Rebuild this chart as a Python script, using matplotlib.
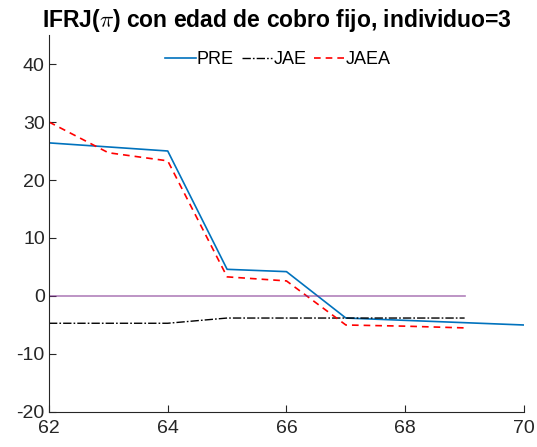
import numpy as np
from matplotlib import pyplot as plt

plt.rcParams['font.family'] = ['Liberation Sans', 'DejaVu Sans']
plt.rcParams['axes.unicode_minus'] = False
plt.rcParams['mathtext.fontset'] = 'cm'

# ages
edad = [62, 63, 64, 65, 66, 67, 68, 69, 70]
edad_j = [62, 63, 64, 65, 66, 67, 68, 69]

pre = [26.4, 25.7, 25.0, 4.6, 4.2, -3.8, -4.2, -4.6, -5.0]
jae = [-4.7, -4.7, -4.7, -3.8, -3.8, -3.8, -3.8, -3.8]
jaea = [30.0, 24.7, 23.3, 3.3, 2.6, -5.0, -5.2, -5.5]
cero = [0, 0]
cero_x = [62, 69]


def main():
    fig = plt.figure(figsize=(5.37, 4.47), dpi=100)
    ax = fig.add_axes([0.0912, 0.0783, 0.8846, 0.8434])

    ax.plot(edad, pre, color='#0072BD', lw=1.2, label='PRE')
    ax.plot(edad_j, jae, color='black', lw=1.0, ls=(0, (6, 1.5, 1.2, 1.5)), label='JAE')
    ax.plot(edad_j, jaea, color='red', lw=1.2, ls=(0, (4, 3)), label='JAEA')
    ax.plot(cero_x, cero, color=(0.494, 0.184, 0.556), alpha=0.6, lw=1.2)

    ax.set_xlim(62, 70)
    ax.set_ylim(-20, 45)
    ax.set_xticks([62, 64, 66, 68, 70])
    ax.set_yticks([-20, -10, 0, 10, 20, 30, 40])
    ax.tick_params(direction='in', labelsize=14, length=5,
                   color='#262626', labelcolor='#262626')
    ax.tick_params(axis='x', pad=6)
    ax.tick_params(axis='y', pad=3)
    for s in ['top', 'right']:
        ax.spines[s].set_visible(False)
    for s in ['left', 'bottom']:
        ax.spines[s].set_color('#262626')

    ax.set_title(r'IFRJ($\pi$) con edad de cobro fijo, individuo=3',
                 fontsize=16.5, fontweight='bold', pad=6, x=0.481)
    ax.legend(loc='upper center', bbox_to_anchor=(0.482, 1.0), ncol=3, frameon=False,
              fontsize=13, handlelength=1.7, handletextpad=0.05, columnspacing=0.45)

    fig.savefig('out.png', dpi=100)


if __name__ == '__main__':
    main()
